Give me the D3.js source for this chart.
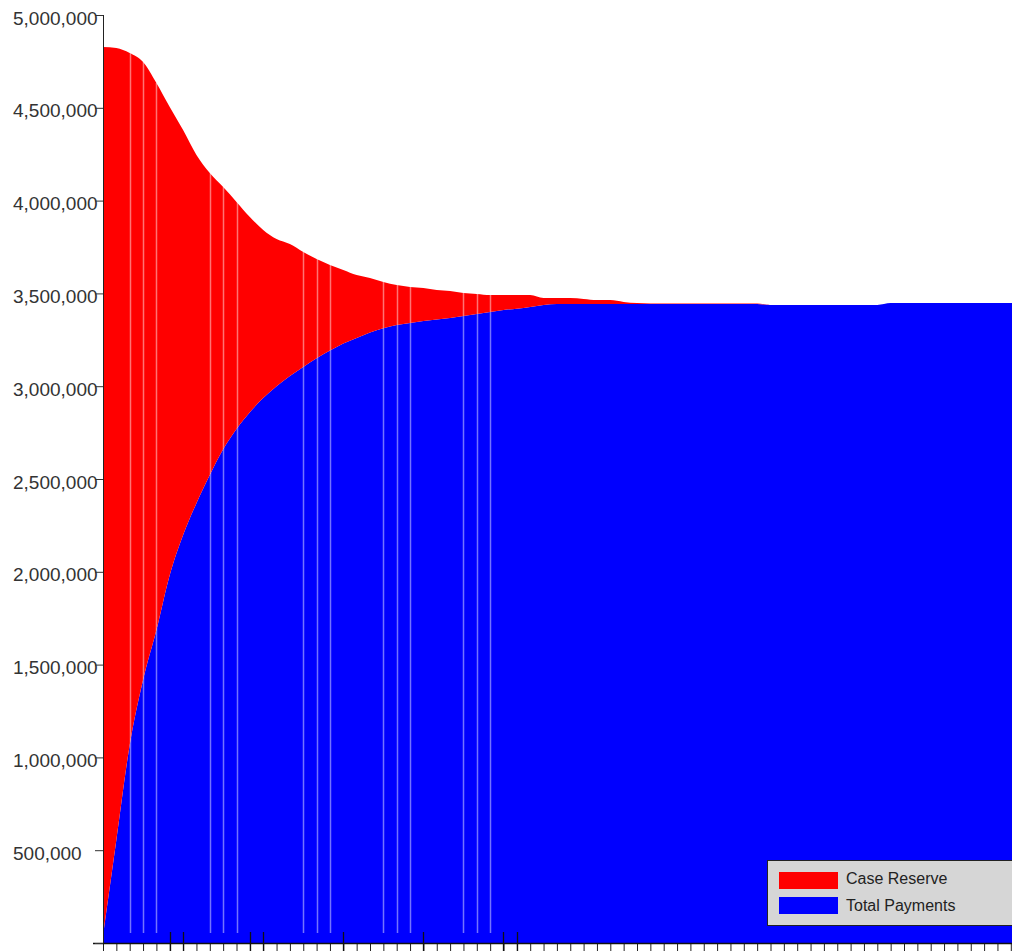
<!DOCTYPE html>
<html>
<head>
<meta charset="utf-8">
<script src="https://cdn.jsdelivr.net/npm/d3@7"></script>
<style>
  body { margin: 0; background: #fff; }
  svg { display: block; font-family: "Liberation Sans", Arial, sans-serif; }
</style>
</head>
<body>
<svg></svg>
<script>
// development periods (one per x tick)
var periods = [0, 1, 2, 3, 4, 5, 6, 7, 8, 9, 10, 11, 12, 13, 14, 15, 16, 17, 18, 19,
    20, 21, 22, 23, 24, 25, 26, 27, 28, 29, 30, 31, 32, 33, 34, 35, 36, 37, 38, 39,
    40, 41, 42, 43, 44, 45, 46, 47, 48, 49, 50, 51, 52, 53, 54, 55, 56, 57, 58, 59,
    60, 61, 62, 63, 64, 65, 66, 67, 68, 69];

var totalPayments = [40000, 555000, 1067000, 1417000, 1686000, 1983000, 2198000, 2370000, 2522000, 2660000,
    2770000, 2860000, 2936000, 3000000, 3055000, 3104000, 3150000, 3192000, 3230000, 3260000,
    3290000, 3312000, 3330000, 3341000, 3351000, 3359000, 3368000, 3378000, 3389000, 3400000,
    3411000, 3417000, 3427000, 3438000, 3443000, 3443000, 3443000, 3443000, 3443000, 3443000,
    3443000, 3443000, 3443000, 3443000, 3443000, 3443000, 3443000, 3443000, 3443000, 3443000,
    3438000, 3438000, 3438000, 3438000, 3438000, 3438000, 3438000, 3438000, 3438000, 3448000,
    3448000, 3448000, 3448000, 3448000, 3448000, 3448000, 3448000, 3448000, 3448000, 3448000];

var caseReserve = [4788000, 4267000, 3728000, 3330000, 2948000, 2521000, 2182000, 1876000, 1627000, 1413000,
    1223000, 1052000, 906000, 793000, 711000, 619000, 535000, 461000, 396000, 339000,
    293000, 250000, 215000, 194000, 178000, 159000, 145000, 124000, 108000, 91000,
    80000, 74000, 64000, 37000, 32000, 32000, 27000, 21000, 21000, 11000,
    5000, 3000, 3000, 3000, 3000, 3000, 3000, 3000, 3000, 3000,
    0, 0, 0, 0, 0, 0, 0, 0, 0, 0,
    0, 0, 0, 0, 0, 0, 0, 0, 0, 0];

var yTicks = [0, 500000, 1000000, 1500000, 2000000, 2500000, 3000000, 3500000, 4000000, 4500000, 5000000];
var yTickLabels = ["", "500,000", "1,000,000", "1,500,000", "2,000,000", "2,500,000",
    "3,000,000", "3,500,000", "4,000,000", "4,500,000", "5,000,000"];

// periods with a white marker line and periods with a long tick
var markerPeriods = [2, 3, 4, 8, 9, 10, 15, 16, 17, 21, 22, 23, 27, 28, 29];
var longTickPeriods = [5, 6, 11, 12, 18, 24, 30, 31];

var legendLabels = ["Case Reserve", "Total Payments"];
var legendColors = ["#ff0000", "#0000ff"];

var w = 1012;
var h = 951;
var margin = { left: 103, top: 15, bottom: 8 };
var axisY = h - margin.bottom;

var svg = d3.select("svg").attr("width", w).attr("height", h);

var x = d3.scaleLinear().domain([0, 68]).range([margin.left, margin.left + 68 * 13.35]);
var y = d3.scaleLinear().domain([0, 5000000]).range([axisY, margin.top]);

var rows = periods.map(function(p, i) {
    return { period: p, payments: totalPayments[i], reserve: caseReserve[i] };
});

var stacked = d3.stack().keys(["payments", "reserve"])(rows);

var area = d3.area()
    .curve(d3.curveMonotoneX)
    .x(function(d) { return x(d.data.period); })
    .y0(function(d) { return y(d[0]); })
    .y1(function(d) { return y(d[1]); });

// clip to plot area
svg.append("clipPath").attr("id", "plot")
    .append("rect")
    .attr("x", margin.left).attr("y", 0)
    .attr("width", w - margin.left).attr("height", axisY);

var plot = svg.append("g").attr("clip-path", "url(#plot)");

plot.selectAll("path.layer")
    .data(stacked)
    .enter()
    .append("path")
    .attr("class", "layer")
    .attr("d", area)
    .attr("fill", function(d, i) { return i === 0 ? "#0000ff" : "#ff0000"; });

// white marker lines
plot.selectAll("line.marker")
    .data(markerPeriods)
    .enter()
    .append("line")
    .attr("x1", function(d) { return Math.round(x(d)) + 0.5; })
    .attr("x2", function(d) { return Math.round(x(d)) + 0.5; })
    .attr("y1", function(d) { return y(totalPayments[d] + caseReserve[d]); })
    .attr("y2", axisY - 10)
    .attr("stroke", "#fff")
    .attr("stroke-opacity", 0.45)
    .attr("stroke-width", 1.5);

// x axis
var xAxis = d3.axisBottom(x).tickValues(periods).tickSize(8).tickFormat("");
var gx = svg.append("g")
    .attr("transform", "translate(0," + axisY + ")")
    .call(xAxis);
gx.select(".domain").remove();
gx.selectAll(".tick line").attr("stroke", "#222");
gx.append("line")
    .attr("x1", margin.left - 10).attr("x2", w)
    .attr("y1", 0.5).attr("y2", 0.5)
    .attr("stroke", "#111")
    .attr("stroke-width", 1.5);

// long ticks reaching into the plot
svg.selectAll("line.longtick")
    .data(longTickPeriods)
    .enter()
    .append("line")
    .attr("class", "longtick")
    .attr("x1", function(d) { return Math.round(x(d)) + 0.5; })
    .attr("x2", function(d) { return Math.round(x(d)) + 0.5; })
    .attr("y1", axisY - 11)
    .attr("y2", axisY + 8)
    .attr("stroke", "#111")
    .attr("stroke-width", 1.3);

// y axis
var yAxis = d3.axisLeft(y).tickValues(yTicks).tickSize(8).tickFormat("");
var gy = svg.append("g")
    .attr("transform", "translate(" + margin.left + ",0)")
    .call(yAxis);
gy.select(".domain")
    .attr("stroke", "#222")
    .attr("d", "M0.5," + margin.top + "V" + axisY);
gy.selectAll(".tick line").attr("stroke", "#333");

// y labels, left aligned
svg.selectAll("text.ylabel")
    .data(yTicks)
    .enter()
    .append("text")
    .attr("x", 13)
    .attr("y", function(d) { return y(d) + 3; })
    .attr("dy", "0.35em")
    .style("font-size", "19px")
    .attr("fill", "#333")
    .text(function(d, i) { return yTickLabels[i]; });

//Legend
var legend = svg.append("g").attr("transform", "translate(767,860)");
legend.append("rect")
    .attr("x", 0.5).attr("y", 0.5)
    .attr("width", 260).attr("height", 65)
    .attr("fill", "#d6d6d6")
    .attr("stroke", "#222");

legendLabels.forEach(function(label, i) {
    legend.append("rect")
        .attr("x", 12).attr("y", 12 + i * 25)
        .attr("width", 59).attr("height", 17)
        .attr("fill", legendColors[i]);
    legend.append("text")
        .attr("x", 79)
        .attr("y", 18 + i * 27)
        .attr("dy", "0.35em")
        .style("font-size", "16px")
        .attr("fill", "#222")
        .text(label);
});
</script>
</body>
</html>
